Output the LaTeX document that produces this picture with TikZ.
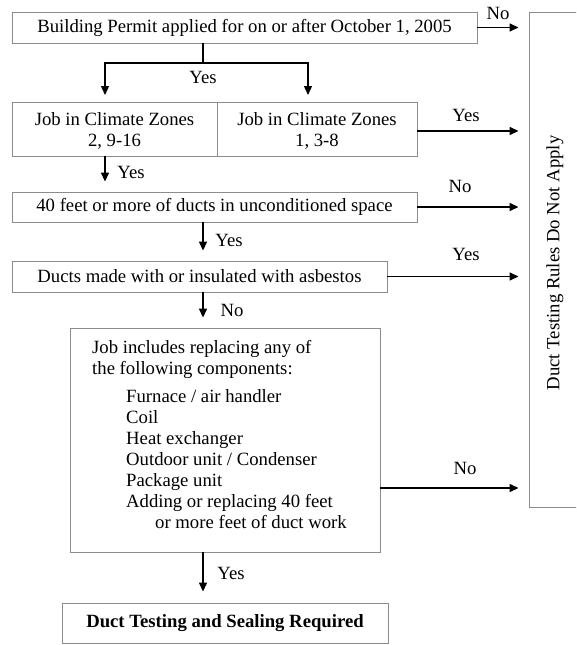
\documentclass[tikz,border=0pt]{standalone}
\usepackage{fontspec}
\setmainfont{Liberation Serif}
\usetikzlibrary{arrows.meta}
\newcommand\dfs{\fontsize{18.7}{21}\selectfont}
\begin{document}
\begin{tikzpicture}[x=1pt,y=-1pt,
  box/.style={draw=black!45, line width=0.9pt, rectangle, inner sep=0pt, font=\dfs},
  txt/.style={inner sep=0pt, font=\dfs},
  arr/.style={draw=black, line width=1.4pt, -{Triangle[length=9pt,width=8pt]}},
  ln/.style={draw=black, line width=1.4pt}
]
\clip (0,0) rectangle (576,645);
\useasboundingbox (0,0) rectangle (576,645);

% boxes
\node[box, minimum width=465pt, minimum height=31pt] (b1) at (244.5,27.5) {Building Permit applied for on or after October 1, 2005};
\node[box, minimum width=205pt, minimum height=54pt] (clL) at (114.5,129) {};
\node[box, minimum width=200pt, minimum height=54pt] (clR) at (317,129) {};
\node[txt, align=center] (clLt) at (114.5,131) {Job in Climate Zones\\2, 9-16};
\node[txt, align=center] (clRt) at (317,131) {Job in Climate Zones\\1, 3-8};
\node[box, minimum width=405pt, minimum height=30pt] (b3) at (214.5,207) {40 feet or more of ducts in unconditioned space};
\node[box, minimum width=375pt, minimum height=31pt] (b4) at (199.5,276.5) {Ducts made with or insulated with asbestos};
\node[box, minimum width=310pt, minimum height=224pt] (b5) at (225,440) {};
\node[txt, anchor=north west, align=left] (b5head) at (92,340) {Job includes replacing any of\\the following components:};
\node[txt, anchor=north west, align=left] (b5list) at (126,389) {Furnace / air handler\\Coil\\Heat exchanger\\Outdoor unit / Condenser\\Package unit\\Adding or replacing 40 feet\\\hspace*{29pt}or more feet of duct work};
\node[box, minimum width=326pt, minimum height=40pt, font=\dfs\bfseries] (fin) at (225,623) {Duct Testing and Sealing Required};
\node[box, minimum width=90pt, minimum height=495pt] (rt) at (574,259.5) {};
\node[txt, rotate=90] (rttext) at (555,263) {Duct Testing Rules Do Not Apply};

% connectors
\coordinate (split) at (203,63);
\coordinate (ta) at (105,95);
\coordinate (tb) at (308,95);
\draw[ln] (b1.south -| split) -- (split);
\draw[arr] (split) -| (ta);
\draw[arr] (split) -| (tb);
\node[txt] (y1) at (203,77) {Yes};

\draw[arr, shorten >=10pt] (b1.east) -- (b1.east -| rt.west);
\node[txt] (n1) at (498,13) {No};

\coordinate (r2) at (0,131);
\draw[arr, shorten >=10pt] (clR.east |- r2) -- (rt.west |- r2);
\node[txt] (y2) at (466,115) {Yes};

\draw[arr, shorten >=10pt] (clL.south -| ta) -- (b3.north -| ta);
\node[txt] (y3) at (131,172) {Yes};

\draw[arr, shorten >=10pt] (b3.east) -- (b3.east -| rt.west);
\node[txt] (n2) at (460,186) {No};

\draw[arr, shorten >=10pt] (b3.south -| split) -- (b4.north -| split);
\node[txt] (y4) at (229,240) {Yes};

\draw[arr, shorten >=10pt] (b4.east) -- (b4.east -| rt.west);
\node[txt] (y5) at (466,254) {Yes};

\draw[arr, shorten >=10pt] (b4.south -| split) -- (b5.north -| split);
\node[txt] (n3) at (232,310) {No};

\coordinate (r5) at (0,488);
\draw[arr, shorten >=10pt] (b5.east |- r5) -- (rt.west |- r5);
\node[txt] (n4) at (465,468) {No};

\draw[arr, shorten >=11pt] (b5.south -| split) -- (fin.north -| split);
\node[txt] (y6) at (231,573) {Yes};
\end{tikzpicture}
\end{document}
